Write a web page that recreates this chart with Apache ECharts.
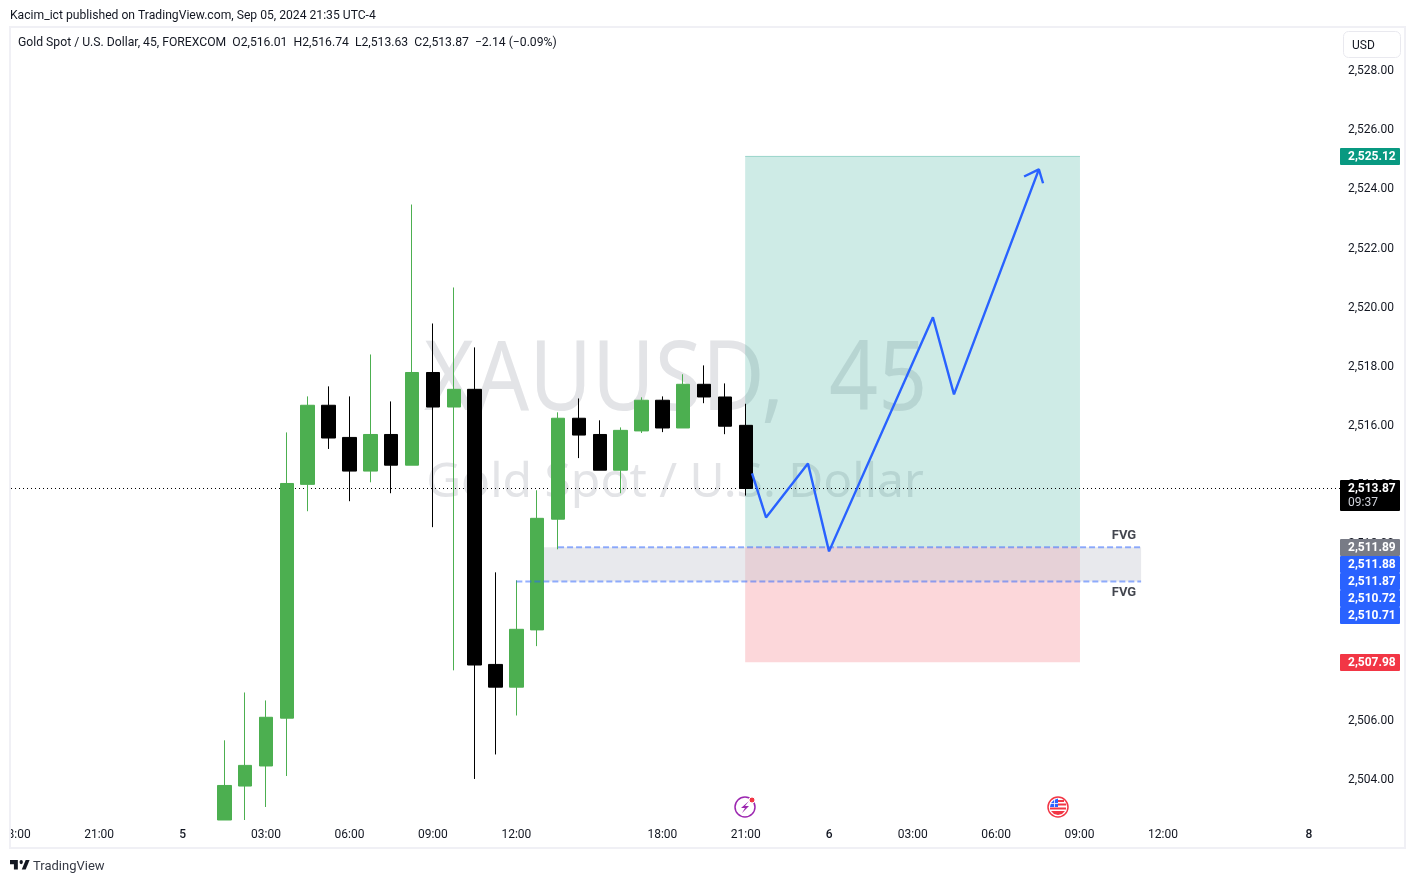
<!DOCTYPE html>
<html style="height: 100%">
<head>
 <meta charset="utf-8">
 <title>XAUUSD 45</title>
 <script src="https://cdn.jsdelivr.net/npm/echarts/dist/echarts.min.js"></script>
</head>
<body style="height: 100%; margin: 0; background: #fff">
 <div id="main" style="width: 1415px; height: 883px"></div>
 <script type="text/javascript">
 // 45 minute candles
 var barIndex = [0, 1, 2, 3, 4, 5, 6, 7, 8, 9, 10, 11, 12, 13, 14, 15, 16, 17, 18, 19, 20, 21, 22, 23, 24, 25];
 var opens = [2502.64, 2503.79, 2504.47, 2506.09, 2514.01, 2516.69, 2515.60, 2514.46, 2515.70, 2514.66, 2517.80, 2516.63, 2517.23,
 2507.91, 2507.14, 2509.08, 2512.83, 2516.25, 2515.70, 2514.49, 2515.82, 2516.86, 2515.92, 2517.40, 2516.97, 2516.01];
 var closes = [2503.81, 2504.49, 2506.12, 2514.04, 2516.69, 2515.58, 2514.46, 2515.70, 2514.66, 2517.80, 2516.63, 2517.23, 2507.89,
 2507.14, 2509.10, 2512.86, 2516.25, 2515.68, 2514.49, 2515.84, 2516.86, 2515.92, 2517.40, 2516.97, 2515.98, 2513.87];
 var lows = [2502.64, 2502.64, 2503.08, 2504.13, 2513.10, 2515.21, 2513.44, 2514.08, 2513.71, 2514.66, 2512.56, 2507.71, 2504.03,
 2504.86, 2506.18, 2508.53, 2511.81, 2514.90, 2514.49, 2513.71, 2515.75, 2515.78, 2515.92, 2516.76, 2515.71, 2513.63];
 var highs = [2505.34, 2506.96, 2506.69, 2515.77, 2516.99, 2517.33, 2516.99, 2518.41, 2516.82, 2523.49, 2519.46, 2520.68, 2518.65,
 2511.03, 2510.76, 2513.81, 2516.45, 2516.92, 2516.18, 2515.94, 2516.96, 2516.99, 2517.74, 2518.04, 2517.43, 2516.74];

 var priceTicks = [2504, 2506, 2508, 2510, 2512, 2514, 2516, 2518, 2520, 2522, 2524, 2526, 2528];
 var timeTickBars = [-10, -6, -2, 2, 6, 10, 14, 21, 25, 29, 33, 37, 41, 45, 52];
 var timeTickLabels = ['18:00', '21:00', '5', '03:00', '06:00', '09:00', '12:00', '18:00', '21:00', '6', '03:00', '06:00', '09:00', '12:00', '8'];

 // drawn path
 var pathBars = [25.30, 25.97, 27.98, 28.99, 33.97, 34.98, 39.05];
 var pathPrices = [2514.38, 2512.89, 2514.72, 2511.74, 2519.67, 2517.06, 2524.68];
 var arrowBars = [38.34, 39.05, 39.25];
 var arrowPrices = [2524.44, 2524.68, 2524.21];

 // long position tool and FVG box
 var targetPrice = 2525.12, entryPrice = 2511.89, stopPrice = 2507.98;
 var positionBars = [24.97, 41.02];
 var fvgBars = [15, 43.95];
 var fvgTop = 2511.88, fvgBottom = 2510.72;
 var fvgTopStart = 16, fvgBottomStart = 14;
 var lastPrice = 2513.87;

 var tagPrices = [2525.12, 2513.87, 2511.89, 2511.88, 2511.87, 2510.72, 2510.71, 2507.98];
 var tagColors = ['#089981', '#000000', '#787b86', '#2962ff', '#2962ff', '#2962ff', '#2962ff', '#f23645'];

 var xMin = -10.225, xMax = 53.485;
 var yMin = 2502.64, yMax = 2529.47;
 var font = 'Roboto, sans-serif';
 var wmFont = '"Noto Sans", sans-serif';
 var textColor = '#131722';

 function pairs(xs, ys) {
 return xs.map(function (x, i) { return [x, ys[i]]; });
 }
 function money(v) {
 return v.toFixed(2).replace(/(\d)(\d{3})\./, '$1,$2.');
 }

 var myChart = echarts.init(document.getElementById('main'));

 var option = {
 animation: false,
 grid: { left: 11, top: 28, width: 1329, height: 792, outerBoundsMode: 'none' },
 xAxis: {
 type: 'value', min: xMin, max: xMax, splitLine: { show: false },
 axisLine: { show: false }, axisTick: { show: false },
 axisLabel: {
 customValues: timeTickBars, margin: 9, fontFamily: font, fontSize: 12, color: textColor,
 formatter: function (v) {
 var s = timeTickLabels[timeTickBars.indexOf(v)];
 return s.length < 3 ? '{day|' + s + '}' : s;
 },
 rich: { day: { fontFamily: font, fontSize: 12, fontWeight: 500, color: textColor } }
 }
 },
 yAxis: {
 type: 'value', position: 'right', min: yMin, max: yMax, splitLine: { show: false },
 axisLine: { show: false }, axisTick: { show: false },
 axisLabel: {
 customValues: priceTicks, margin: 8, fontFamily: font, fontSize: 12, color: textColor,
 formatter: money
 }
 },
 series: [
 {
 type: 'line', data: [], z: 1, silent: true,
 markArea: {
 silent: true,
 data: [
 [{ xAxis: positionBars[0], yAxis: targetPrice, itemStyle: { color: 'rgba(8,153,129,0.2)' } }, { xAxis: positionBars[1], yAxis: entryPrice }],
 [{ xAxis: positionBars[0], yAxis: entryPrice, itemStyle: { color: 'rgba(242,54,69,0.2)' } }, { xAxis: positionBars[1], yAxis: stopPrice }],
 [{ xAxis: fvgBars[0], yAxis: fvgTop, itemStyle: { color: 'rgba(197,200,210,0.4)' } }, { xAxis: fvgBars[1], yAxis: fvgBottom }]
 ]
 }
 },
 {
 type: 'line', z: 1, symbol: 'none', silent: true,
 data: [[positionBars[0], targetPrice], [positionBars[1], targetPrice]],
 lineStyle: { color: 'rgba(8,153,129,0.35)', width: 1 }
 },
 {
 type: 'line', z: 1, symbol: 'none', silent: true,
 data: [[xMin, lastPrice], [xMax, lastPrice]],
 lineStyle: { color: '#000', width: 1, type: [1, 3] }
 },
 {
 type: 'candlestick', z: 2, barWidth: 14, silent: true,
 encode: { x: 0, y: [1, 2, 3, 4] },
 data: barIndex.map(function (b, i) { return [b, opens[i], closes[i], lows[i], highs[i]]; }),
 itemStyle: { color: '#4caf50', borderColor: '#4caf50', color0: '#000', borderColor0: '#000', borderWidth: 1 }
 },
 {
 type: 'line', z: 3, symbol: 'none', silent: true,
 data: [[fvgTopStart, fvgTop], [fvgBars[1], fvgTop]],
 lineStyle: { color: 'rgba(41,98,255,0.5)', width: 2, type: [6, 3] }
 },
 {
 type: 'line', z: 3, symbol: 'none', silent: true,
 data: [[fvgBottomStart, fvgBottom], [fvgBars[1], fvgBottom]],
 lineStyle: { color: 'rgba(41,98,255,0.5)', width: 2, type: [6, 3] }
 },
 {
 type: 'line', z: 4, symbol: 'none', silent: true,
 data: pairs(pathBars, pathPrices),
 lineStyle: { color: '#2962ff', width: 2.4 }
 },
 {
 type: 'line', z: 4, symbol: 'none', silent: true,
 data: pairs(arrowBars, arrowPrices),
 lineStyle: { color: '#2962ff', width: 2.4 }
 },
 {
 type: 'scatter', z: 5, symbolSize: 0, silent: true,
 data: [[43.13, 2512.28], [43.13, 2510.35]],
 label: { show: true, position: 'inside', formatter: 'FVG', fontFamily: font, fontSize: 13, fontWeight: 'bold', color: '#131722' }
 }
 ]
 };
 myChart.setOption(option);

 // price tags on the scale, pushed down when they would overlap like on the original
 var tagEls = [];
 var prevY = -100;
 tagPrices.forEach(function (p, i) {
 var y = Math.round(myChart.convertToPixel({ yAxisIndex: 0 }, p));
 var isLast = p === lastPrice;
 if (!isLast) y = Math.max(y, prevY + 17);
 prevY = isLast ? y + 14 : y;
 tagEls.push({ type: 'rect', z: 20, shape: { x: 1340, y: y - 8, width: 60, height: isLast ? 31 : 17, r: 1 }, style: { fill: tagColors[i] } });
 tagEls.push({ type: 'text', z: 21, style: { x: 1348, y: y + 1, text: money(p), fill: '#fff', font: 'bold 12px ' + font, textVerticalAlign: 'middle' } });
 if (isLast) tagEls.push({ type: 'text', z: 21, style: { x: 1348, y: y + 15, text: '09:37', fill: '#d1d4dc', font: '12px ' + font, textVerticalAlign: 'middle' } });
 });

 var graphics = [
 // watermark
 { type: 'text', z: 0, x: 424, y: 383, scaleX: 0.895, style: { x: 0, y: 0, text: 'XAUUSD,  45', fill: '#e3e4e7', font: '96px ' + wmFont, textVerticalAlign: 'middle' } },
 { type: 'text', z: 0, style: { x: 675, y: 483, text: 'Gold Spot / U.S. Dollar', fill: '#e3e4e7', font: '48px ' + wmFont, textAlign: 'center', textVerticalAlign: 'middle' } },
 // frame and header
 { type: 'rect', z: 15, shape: { x: 0, y: 822, width: 9, height: 22 }, style: { fill: '#fff' } },
 { type: 'rect', z: 16, shape: { x: 10, y: 27, width: 1395, height: 821 }, style: { fill: 'none', stroke: '#f0f0f5', lineWidth: 2 } },
 { type: 'text', z: 21, style: { x: 10, y: 16, text: 'Kacim_ict published on TradingView.com, Sep 05, 2024 21:35 UTC-4', fill: textColor, font: '12.15px ' + font, textVerticalAlign: 'middle' } },
 { type: 'text', z: 21, style: { x: 18, y: 43, text: 'Gold Spot / U.S. Dollar, 45, FOREXCOM  O2,516.01  H2,516.74  L2,513.63  C2,513.87  \u22122.14 (\u22120.09%)', fill: textColor, font: '12.2px ' + font, textVerticalAlign: 'middle' } },
 { type: 'rect', z: 20, shape: { x: 1343.5, y: 31.5, width: 57, height: 26, r: 5 }, style: { fill: '#fff', stroke: '#e9e9ef', lineWidth: 1 } },
 { type: 'text', z: 21, style: { x: 1352, y: 45.5, text: 'USD', fill: textColor, font: '12px ' + font, textVerticalAlign: 'middle' } },
 // footer logo
 {
 type: 'group', x: 10, y: 856, scaleX: 0.56, scaleY: 0.68,
 children: [
 { type: 'polygon', z: 21, shape: { points: [[0, 6], [14, 6], [14, 20], [7, 20], [7, 12], [0, 12]] }, style: { fill: '#131722' } },
 { type: 'polygon', z: 21, shape: { points: [[28, 6], [35, 6], [28, 20], [21, 20]] }, style: { fill: '#131722' } },
 { type: 'circle', z: 21, shape: { cx: 20, cy: 9, r: 3 }, style: { fill: '#131722' } }
 ]
 },
 { type: 'text', z: 21, style: { x: 33, y: 867, text: 'TradingView', fill: '#363a45', font: '13px ' + font, textVerticalAlign: 'middle' } },
 // lightning icon
 { type: 'circle', z: 21, shape: { cx: 745, cy: 807, r: 10 }, style: { fill: '#fff', stroke: '#9c27b0', lineWidth: 1.5 } },
 { type: 'polygon', z: 22, shape: { points: [[749, 801], [741, 808], [745, 808], [742, 813], [749, 806], [745, 806]] }, style: { fill: '#9c27b0' } },
 { type: 'circle', z: 23, shape: { cx: 752, cy: 800, r: 3 }, style: { fill: '#f23645', stroke: '#fff', lineWidth: 1 } },
 // flag icon
 { type: 'circle', z: 21, shape: { cx: 1058, cy: 807, r: 10 }, style: { fill: '#fff', stroke: '#f23645', lineWidth: 1.5 } },
 { type: 'rect', z: 22, shape: { x: 1057, y: 800, width: 7, height: 2 }, style: { fill: '#f23645' } },
 { type: 'rect', z: 22, shape: { x: 1057, y: 803.5, width: 9, height: 2 }, style: { fill: '#f23645' } },
 { type: 'rect', z: 22, shape: { x: 1050, y: 807.5, width: 16, height: 2 }, style: { fill: '#f23645' } },
 { type: 'polygon', z: 22, shape: { points: [[1051, 811], [1065, 811], [1062, 814], [1058, 815], [1054, 814]] }, style: { fill: '#f23645' } },
 { type: 'polygon', z: 23, shape: { points: [[1058, 798.5], [1058, 807], [1050, 807], [1051, 803], [1054, 800]] }, style: { fill: '#2962ff' } },
 { type: 'rect', z: 24, shape: { x: 1050, y: 803, width: 8, height: 0.8 }, style: { fill: '#fff' } },
 { type: 'rect', z: 24, shape: { x: 1054, y: 799, width: 0.8, height: 8 }, style: { fill: '#fff' } }
 ].concat(tagEls);

 myChart.setOption({ graphic: { elements: graphics } });
 </script>
</body>
</html>
